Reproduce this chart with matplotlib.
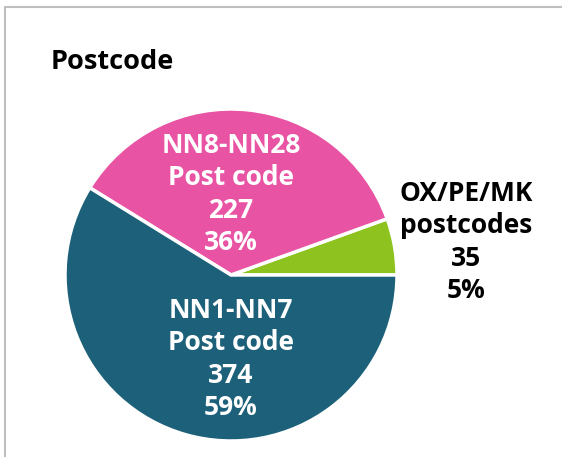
import matplotlib
matplotlib.use("Agg")
import matplotlib.pyplot as plt

# DATA
categories = ["OX/PE/MK\npostcodes", "NN8-NN28\nPost code", "NN1-NN7\nPost code"]
counts = [35, 227, 374]
pct_labels = ["5%", "36%", "59%"]
colors = ["#8DC21F", "#E854A3", "#1C6079"]

W, H = 562, 457
fig = plt.figure(figsize=(W / 100, H / 100), dpi=100)
ax = fig.add_axes([0, 0, 1, 1])

# frame (left + top only)
ax.plot([4.5, 4.5, W], [0, H - 6.5, H - 6.5], color="#BFBFBF", lw=1.5, solid_capstyle="butt")

# PIE
cx, cy, r = 231, H - 275, 166
wedges, _ = ax.pie(counts, colors=colors, startangle=0, counterclock=True,
                   center=(cx, cy), radius=r, frame=True,
                   wedgeprops=dict(edgecolor="white", linewidth=2.5))
ax.set_xlim(0, W)
ax.set_ylim(0, H)
ax.set_aspect("equal")
ax.axis("off")

font = "Open Sans"

# LABELS
label_pos = [(466, H - 242), (231, H - 194), (231, H - 359)]
text_colors = ["black", "white", "white"]
for cat, n, p, pos, tc in zip(categories, counts, pct_labels, label_pos, text_colors):
    ax.text(pos[0], pos[1], f"{cat}\n{n}\n{p}", ha="center", va="center",
            color=tc, fontsize=19, fontweight="bold", family=font,
            linespacing=1.26)

# TITLE
ax.text(51, H - 62, "Postcode", ha="left", va="center", fontsize=19.5,
        fontweight="bold", family=font, color="black")

fig.savefig("out.png", dpi=100)
